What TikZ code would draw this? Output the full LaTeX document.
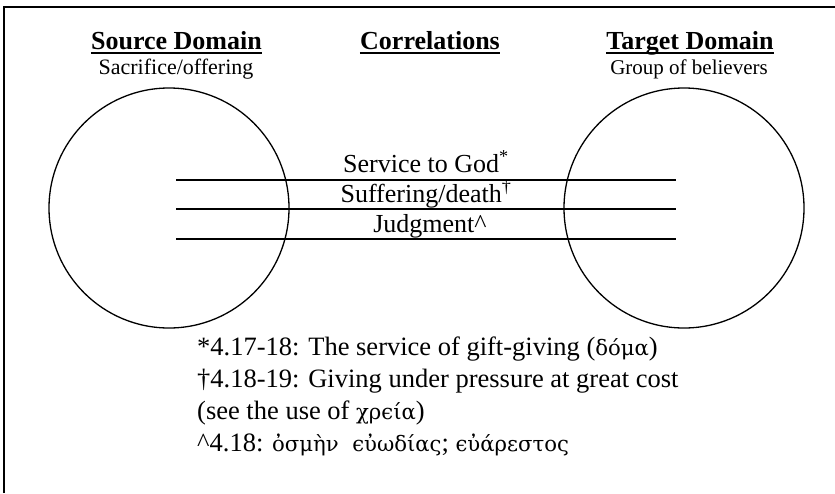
\documentclass[tikz,border=0pt]{standalone}
\usepackage{fontspec}
\setmainfont{Liberation Serif}
\newfontfamily\greekfont[Scale=0.8]{DejaVu Serif}
\begin{document}
\begin{tikzpicture}[x=1pt,y=-1pt,
  head/.style={font=\fontsize{26}{30}\selectfont\bfseries, inner sep=0pt, anchor=base},
  rule/.style={line width=2pt},
  sub/.style={font=\fontsize{22}{26}\selectfont, inner sep=0pt, anchor=base},
  corr/.style={font=\fontsize{26}{30}\selectfont, inner sep=0pt, anchor=base},
  domaincirc/.style={draw, circle, minimum size=240pt, line width=1.3pt, inner sep=0pt},
  link/.style={line width=1.6pt},
  note/.style={font=\fontsize{26.5}{32}\selectfont, inner sep=0pt, anchor=base west}]
\useasboundingbox (0,0) rectangle (835,493);
% frame
\draw[line width=2pt] (4,493) -- (4,7) -- (835,7);

% column headings, each with its rule
\node[head] (srchead) at (176.5,49) {Source Domain};
\node[head] (corhead) at (430,49) {Correlations};
\node[head] (tgthead) at (690,49) {Target Domain};
\foreach \h in {srchead,corhead,tgthead}
  \draw[rule] ([yshift=-3.5pt]\h.base west) -- ([yshift=-3.5pt]\h.base east);
\node[sub] (srcsub) at (176,74) {Sacrifice/offering};
\node[sub, font=\fontsize{21}{25}\selectfont] (tgtsub) at (689,74) {Group of believers};

% the two domains
\node[domaincirc] (src) at (169,208) {};
\node[domaincirc] (tgt) at (684,208) {};

% correlation lines
\coordinate (a1) at (176,180); \coordinate (b1) at (676,180);
\coordinate (a2) at (176,209); \coordinate (b2) at (676,209);
\coordinate (a3) at (176,239); \coordinate (b3) at (676,239);
\draw[link] (a1) -- (b1);
\draw[link] (a2) -- (b2);
\draw[link] (a3) -- (b3);

\node[corr] (c1) at (426,172) {Service to God\textsuperscript{*}};
\node[corr] (c2) at (426,202) {Suffering/death\textsuperscript{†}};
\node[corr] (c3) at (430,232) {Judgment\textasciicircum};

% notes
\node[note] (n1) at (197,355) {*4.17-18: The service of gift-giving ({\greekfont δόμα})};
\node[note] (n2) at (197,387) {†4.18-19: Giving under pressure at great cost};
\node[note] (n3) at (197,419) {(see the use of {\greekfont χρϵία})};
\node[note] (n4) at (197,451) {\textasciicircum 4.18: {\greekfont ὀσμὴν\ \ ϵὐωδίας}; {\greekfont ϵὐάρεστος}};
\end{tikzpicture}
\end{document}
